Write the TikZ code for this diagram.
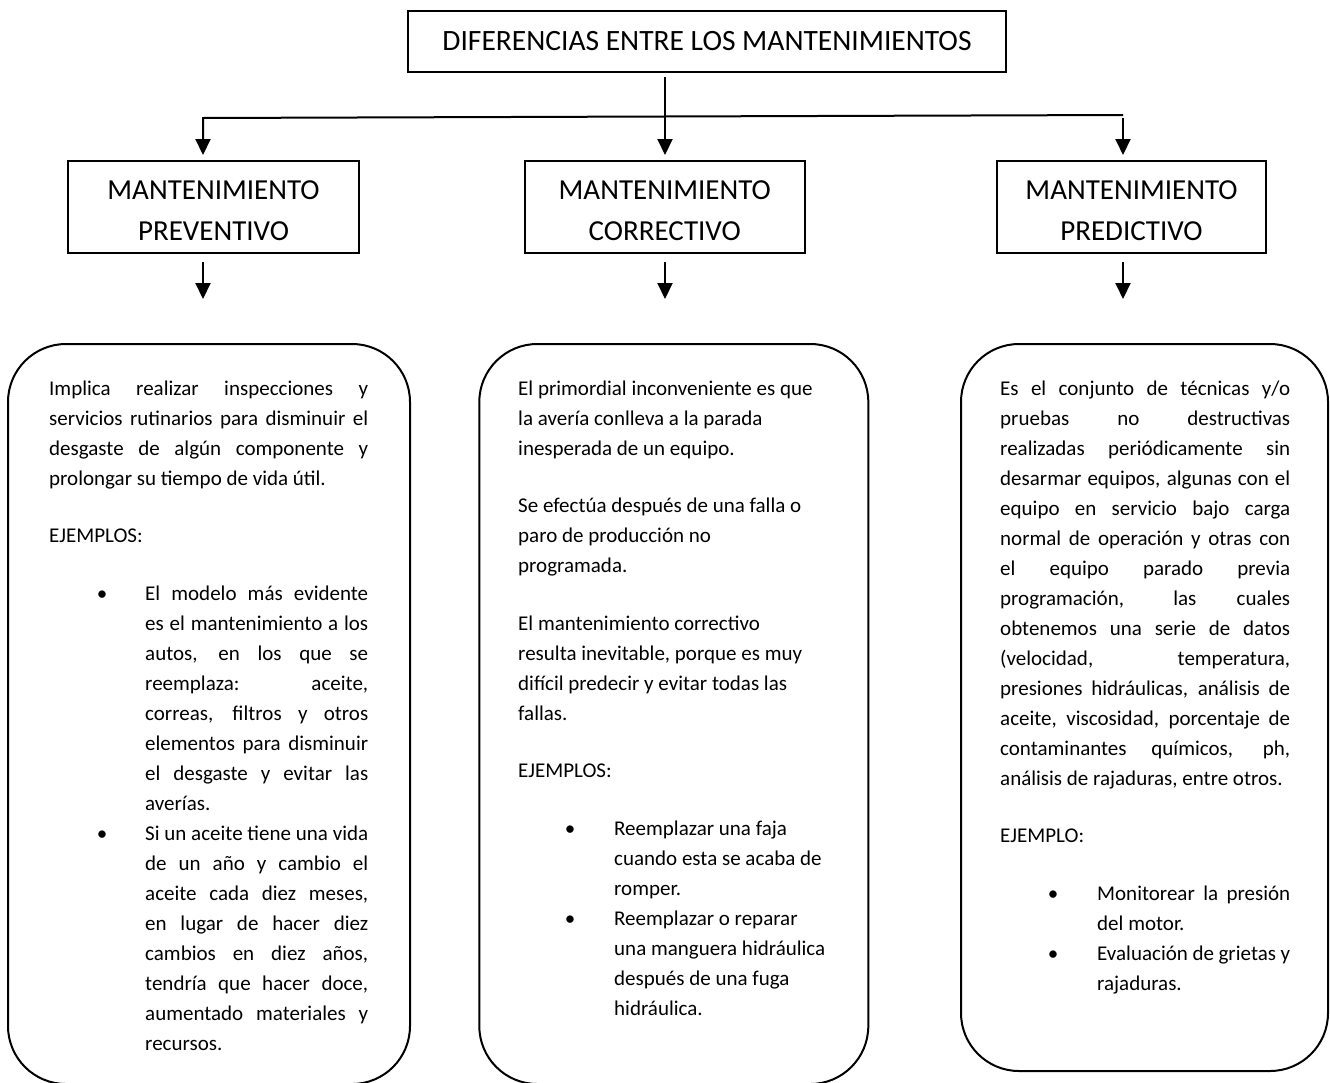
\documentclass[tikz,border=0pt]{standalone}
\usepackage{fontspec}
\setmainfont{Carlito}
\usetikzlibrary{arrows.meta}
\hbadness=10000
\tolerance=10000
\tikzset{
  arr/.style={line width=2pt, -{Triangle[length=16pt,width=15pt]}},
  titlebox/.style={draw, line width=2pt, rectangle, inner sep=0pt, font=\fontsize{29.5}{36}\selectfont},
  headbox/.style={draw, line width=2pt, rectangle, inner sep=0pt, minimum height=92.6pt, font=\fontsize{29}{41}\selectfont, align=center},
  roundbox/.style={draw, line width=2pt, rectangle, rounded corners=58pt, inner sep=0pt},
  bodytext/.style={anchor=north west, inner sep=0pt, font=\fontsize{21}{30}\selectfont},
}
\newcommand\bulA{\leavevmode\llap{\makebox[0pt][c]{•}\hspace{43pt}}}
\newcommand\bulB{\leavevmode\llap{\makebox[0pt][c]{•}\hspace{44pt}}}
\newcommand\pgap{\par\vspace{27.5pt}}
\begin{document}
\begin{tikzpicture}[x=1pt,y=-1pt]
\useasboundingbox (0,0) rectangle (1330,1082);
\fill[white] (0,0) rectangle (1330,1082);
\clip (0,0) rectangle (1330,1082);

% title and headers
\node[titlebox, minimum width=598pt, minimum height=61pt] (title) at (707,41.5) {DIFERENCIAS ENTRE LOS MANTENIMIENTOS};
\node[headbox, minimum width=291pt] (prev) at (213.5,207) {\rule{0pt}{27pt}MANTENIMIENTO\\PREVENTIVO};
\node[headbox, minimum width=280.5pt] (corr) at (664.75,207) {\rule{0pt}{27pt}MANTENIMIENTO\\CORRECTIVO};
\node[headbox, minimum width=269pt] (pred) at (1131.5,207) {\rule{0pt}{27pt}MANTENIMIENTO\\PREDICTIVO};

% connector points
\coordinate (t0) at (665,77);
\coordinate (ta) at (665,155);
\coordinate (hl) at (203,118);
\coordinate (hr) at (1123,115);
\coordinate (la) at (203,155);
\coordinate (rs) at (1123,118);
\coordinate (ra) at (1123,155);
\coordinate (ps) at (203,262);
\coordinate (pe) at (203,299);
\coordinate (cs) at (665,262);
\coordinate (ce) at (665,299);
\coordinate (ds) at (1123,262);
\coordinate (de) at (1123,299);

\draw[arr] (t0) -- (ta);
\draw[arr] (hr) -- (hl) -- (la);
\draw[arr] (rs) -- (ra);
\draw[arr] (ps) -- (pe);
\draw[arr] (cs) -- (ce);
\draw[arr] (ds) -- (de);

% rounded boxes
\node[roundbox, minimum width=402pt, minimum height=740pt] (bprev) at (209,714) {};
\node[roundbox, minimum width=389pt, minimum height=740pt] (bcorr) at (673.8,714) {};
\node[roundbox, minimum width=367pt, minimum height=727pt] (bpred) at (1144.5,707.5) {};

% texts
\node[bodytext, text width=319pt, align=justify] (tprev) at (49,375) {%
\parindent=0pt\parskip=0pt
\rule{0pt}{20pt}Implica realizar inspecciones y\linebreak servicios rutinarios para disminuir el\linebreak desgaste de algún componente y\linebreak prolongar su tiempo de vida útil.\pgap
EJEMPLOS:\pgap
\leftskip=96pt
\bulA El modelo más evidente\linebreak es el mantenimiento a los\linebreak autos, en los que se\linebreak reemplaza: aceite,\linebreak correas, filtros y otros\linebreak elementos para disminuir\linebreak el desgaste y evitar las\linebreak averías.\par
\bulA Si un aceite tiene una vida\linebreak de un año y cambio el\linebreak aceite cada diez meses,\linebreak en lugar de hacer diez\linebreak cambios en diez años,\linebreak tendría que hacer doce,\linebreak aumentado materiales y\linebreak recursos.\par};

\node[bodytext, text width=320pt, align=justify] (tcorr) at (518,375) {%
\parindent=0pt\parskip=0pt\rightskip=0pt plus 1fil
\rule{0pt}{20pt}El primordial inconveniente es que\linebreak la avería conlleva a la parada\linebreak inesperada de un equipo.\pgap
Se efectúa después de una falla o\linebreak paro de producción no\linebreak programada.\pgap
El mantenimiento correctivo\linebreak resulta inevitable, porque es muy\linebreak difícil predecir y evitar todas las\linebreak fallas.\pgap
EJEMPLOS:\pgap
\leftskip=96pt
\bulB Reemplazar una faja\linebreak cuando esta se acaba de\linebreak romper.\par
\bulB Reemplazar o reparar\linebreak una manguera hidráulica\linebreak después de una fuga\linebreak hidráulica.\par};

\node[bodytext, text width=290pt, align=justify] (tpred) at (1000,375) {%
\parindent=0pt\parskip=0pt
\rule{0pt}{20pt}Es el conjunto de técnicas y/o\linebreak pruebas no destructivas\linebreak realizadas periódicamente sin\linebreak desarmar equipos, algunas con el\linebreak equipo en servicio bajo carga\linebreak normal de operación y otras con\linebreak el equipo parado previa\linebreak programación, las cuales\linebreak obtenemos una serie de datos\linebreak (velocidad, temperatura,\linebreak presiones hidráulicas, análisis de\linebreak aceite, viscosidad, porcentaje de\linebreak contaminantes químicos, ph,\linebreak análisis de rajaduras, entre otros.\pgap
EJEMPLO:\pgap
\leftskip=97pt
\bulB Monitorear la presión\linebreak del motor.\par
\bulB Evaluación de grietas y\linebreak rajaduras.\par};
\end{tikzpicture}
\end{document}
